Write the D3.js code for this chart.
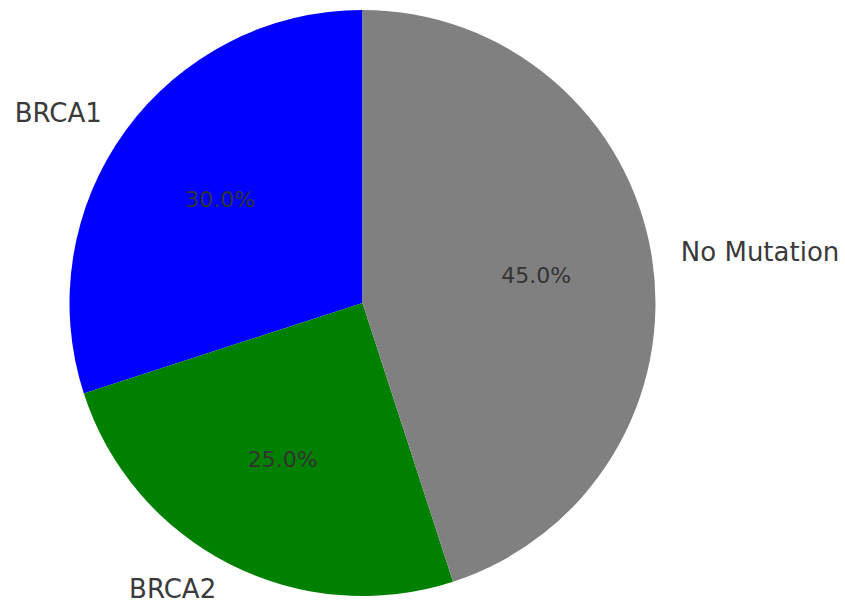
<!DOCTYPE html>
<html>
<head>
<meta charset="utf-8">
<script src="https://cdn.jsdelivr.net/npm/d3@7"></script>
<style>
  html, body { margin: 0; padding: 0; background: #ffffff; }
  svg { display: block; }
</style>
</head>
<body>
<svg id="chart" width="845" height="602"></svg>
<script>
const categories = ["BRCA1", "BRCA2", "No Mutation"];
const values = [30, 25, 45];
const colors = ["#0000ff", "#008000", "#808080"];

const width = 845, height = 602;
const cx = 362.5, cy = 303, r = 293;

const svg = d3.select("#chart");
const g = svg.append("g").attr("transform", `translate(${cx},${cy})`);

const data = categories.map((c, i) => ({ name: c, value: values[i], color: colors[i] }));
const total = d3.sum(values);

const pie = d3.pie().value(d => d.value).sort(null)
  .startAngle(0).endAngle(-2 * Math.PI);
const arcs = pie(data);

const arc = d3.arc().innerRadius(0).outerRadius(r);
const labelArc = d3.arc().innerRadius(r * 1.1).outerRadius(r * 1.1);
const pctArc = d3.arc().innerRadius(r * 0.6).outerRadius(r * 0.6);

g.selectAll("path.slice").data(arcs).enter().append("path")
  .attr("class", "slice")
  .attr("d", arc)
  .attr("fill", d => d.data.color);

g.selectAll("text.label").data(arcs).enter().append("text")
  .attr("class", "label")
  .attr("x", d => labelArc.centroid(d)[0])
  .attr("y", d => labelArc.centroid(d)[1] - 1)
  .attr("text-anchor", d => labelArc.centroid(d)[0] < 0 ? "end" : "start")
  .attr("dominant-baseline", "central")
  .attr("font-family", "DejaVu Sans")
  .attr("font-size", 26)
  .attr("fill", "#3a3a3a")
  .text(d => d.data.name);

g.selectAll("text.pct").data(arcs).enter().append("text")
  .attr("class", "pct")
  .attr("x", d => pctArc.centroid(d)[0])
  .attr("y", d => pctArc.centroid(d)[1])
  .attr("text-anchor", "middle")
  .attr("dominant-baseline", "central")
  .attr("font-family", "DejaVu Sans")
  .attr("font-size", 22)
  .attr("fill", "#333333")
  .text(d => (d.data.value / total * 100).toFixed(1) + "%");
</script>
</body>
</html>
